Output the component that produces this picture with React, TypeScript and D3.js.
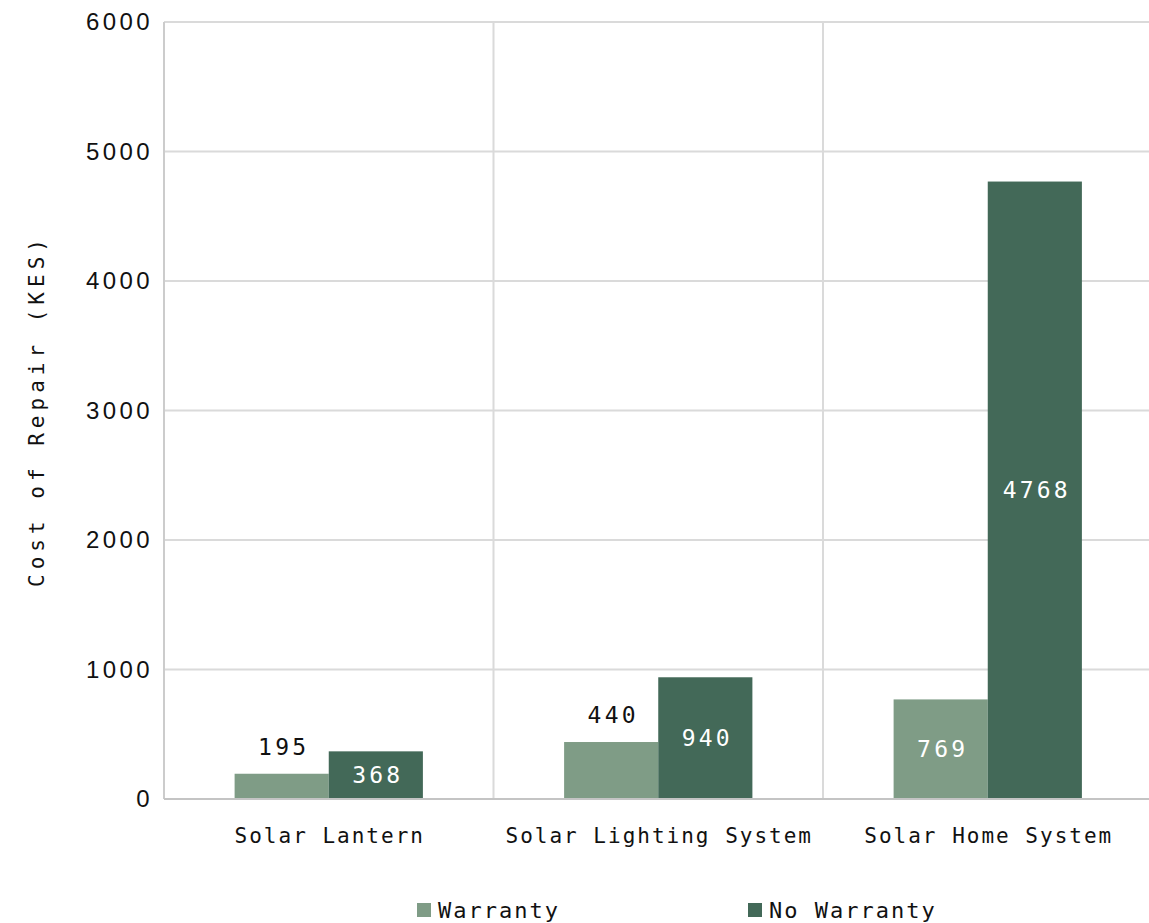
import { useEffect, useRef } from 'react'
import * as d3 from 'd3'

const categories = ['Solar Lantern', 'Solar Lighting System', 'Solar Home System']
const seriesNames = ['Warranty', 'No Warranty']
const warranty = [195, 440, 769]
const noWarranty = [368, 940, 4768]
const yTicks = [0, 1000, 2000, 3000, 4000, 5000, 6000]

const colors = ['#7f9c86', '#436958']
const mono = '"DejaVu Sans Mono", monospace'
const sans = '"Liberation Sans", Arial, sans-serif'

export default function App() {
  const svgRef = useRef<SVGSVGElement>(null)

  useEffect(() => {
    if (!svgRef.current) return
    const W = 1149
    const H = 923
    const margin = { top: 22, left: 164, bottom: 124 }
    const plotBottom = H - margin.bottom
    const step = 329.5

    const svg = d3.select(svgRef.current)
    svg.selectAll('*').remove()

    const y = d3.scaleLinear().domain([0, 6000]).range([plotBottom, margin.top])
    const x0 = d3.scaleBand<string>()
      .domain(categories)
      .range([margin.left, margin.left + step * categories.length])
      .padding(0)
    const x1 = d3.scaleBand<string>()
      .domain(seriesNames)
      .range([0, x0.bandwidth()])
      .paddingInner(0)
      .paddingOuter(0.75)

    const values = [warranty, noWarranty]

    // horizontal grid
    svg.append('g')
      .selectAll('line')
      .data(yTicks)
      .join('line')
      .attr('x1', margin.left)
      .attr('x2', W)
      .attr('y1', d => y(d))
      .attr('y2', d => y(d))
      .attr('stroke', '#dadada')
      .attr('stroke-width', 2)

    // vertical grid at band boundaries
    svg.append('g')
      .selectAll('line')
      .data(categories)
      .join('line')
      .attr('x1', d => x0(d)!)
      .attr('x2', d => x0(d)!)
      .attr('y1', margin.top)
      .attr('y2', plotBottom)
      .attr('stroke', (d, i) => (i === 0 ? '#cccccc' : '#dadada'))
      .attr('stroke-width', 2)

    // bars
    const groups = svg.append('g')
      .selectAll('g')
      .data(categories)
      .join('g')
      .attr('transform', d => `translate(${x0(d)},0)`)

    groups.each(function (cat, ci) {
      const g = d3.select(this)
      seriesNames.forEach((s, si) => {
        const v = values[si][ci]
        const bx = x1(s)!
        const bw = x1.bandwidth()
        g.append('rect')
          .attr('x', bx)
          .attr('y', y(v))
          .attr('width', bw)
          .attr('height', plotBottom - y(v))
          .attr('fill', colors[si])
        // small warranty values sit above their bar, the rest inside
        const outside = si === 0 && v < 500
        g.append('text')
          .attr('x', bx + bw / 2 + 2)
          .attr('y', outside ? y(v) - 19 : (y(v) + plotBottom) / 2)
          .attr('dy', outside ? 0 : '0.35em')
          .attr('text-anchor', 'middle')
          .attr('font-family', mono)
          .attr('font-size', 23)
          .attr('letter-spacing', 3.2)
          .attr('fill', outside ? '#111' : '#fff')
          .text(v)
      })
    })

    // baseline
    svg.append('line')
      .attr('x1', margin.left)
      .attr('x2', W)
      .attr('y1', plotBottom)
      .attr('y2', plotBottom)
      .attr('stroke', '#c4c4c4')
      .attr('stroke-width', 2)

    // y tick labels
    svg.append('g')
      .selectAll('text')
      .data(yTicks)
      .join('text')
      .attr('x', 153)
      .attr('y', d => y(d))
      .attr('dy', '0.35em')
      .attr('text-anchor', 'end')
      .attr('font-family', sans)
      .attr('font-size', 24)
      .attr('letter-spacing', 3.4)
      .attr('fill', '#111')
      .text(d => d)

    // category labels
    svg.append('g')
      .selectAll('text')
      .data(categories)
      .join('text')
      .attr('x', d => x0(d)! + x0.bandwidth() / 2 + 1)
      .attr('y', 843)
      .attr('text-anchor', 'middle')
      .attr('font-family', mono)
      .attr('font-size', 21)
      .attr('letter-spacing', 2)
      .attr('fill', '#111')
      .text(d => d)

    // y axis title
    svg.append('text')
      .attr('transform', `translate(44,${(margin.top + plotBottom) / 2}) rotate(-90)`)
      .attr('text-anchor', 'middle')
      .attr('font-family', mono)
      .attr('font-size', 21)
      .attr('letter-spacing', 5)
      .attr('fill', '#111')
      .text('Cost of Repair (KES)')

    // legend
    const legendX = [417, 748]
    const legend = svg.append('g')
      .selectAll('g')
      .data(seriesNames)
      .join('g')
      .attr('transform', (d, i) => `translate(${legendX[i]},910)`)
    legend.append('rect')
      .attr('x', 0)
      .attr('y', -7)
      .attr('width', 14)
      .attr('height', 14)
      .attr('fill', (d, i) => colors[i])
    legend.append('text')
      .attr('x', 21)
      .attr('y', 0)
      .attr('dy', '0.35em')
      .attr('font-family', mono)
      .attr('font-size', 22)
      .attr('letter-spacing', 2)
      .attr('fill', '#111')
      .text(d => d)
  }, [])

  return (
    <svg
      ref={svgRef}
      width={1149}
      height={923}
      style={{ position: 'absolute', left: 0, top: 0, background: '#fff' }}
    />
  )
}
